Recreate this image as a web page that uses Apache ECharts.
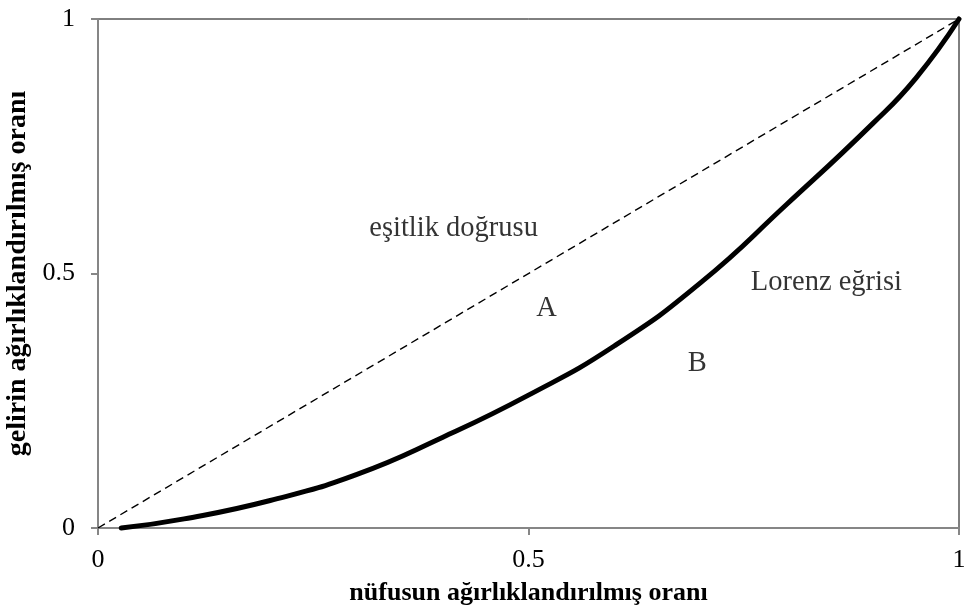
<!DOCTYPE html>
<html>
<head>
<meta charset="utf-8">
<script src="https://cdn.jsdelivr.net/npm/echarts@6/dist/echarts.min.js"></script>
<style>
html, body { margin: 0; padding: 0; background: #fff; }
#main { width: 964px; height: 615px; }
</style>
</head>
<body>
<div id="main"></div>
<script>
// Lorenz curve
var lorenzX = [0.027, 0.1, 0.2, 0.3, 0.4, 0.5, 0.6, 0.7, 0.8, 0.9, 0.95, 1];
var lorenzY = [0, 0.018, 0.054, 0.105, 0.178, 0.261, 0.358, 0.482, 0.636, 0.795, 0.884, 1];
// line of equality
var equalityX = [0, 1];
var equalityY = [0, 1];
// axis ticks
var tickMin = 0;
var tickMax = 1;
var tickStep = 0.5;
// text notes inside the plot (data coordinates)
var noteTexts = ['eşitlik doğrusu', 'A', 'B', 'Lorenz eğrisi'];
var noteX = [0.413, 0.521, 0.696, 0.846];
var noteY = [0.589, 0.432, 0.324, 0.483];

var xName = 'nüfusun ağırlıklandırılmış oranı';
var yName = 'gelirin ağırlıklandırılmış oranı';

function pairs(xs, ys) {
	return xs.map(function (x, i) { return [x, ys[i]]; });
}

var font = "'Liberation Serif', 'Times New Roman', serif";
var axisGray = '#868686';

var myChart = echarts.init(document.getElementById('main'));

var option = {
	backgroundColor: '#fff',
	animation: false,
	grid: {
		left: 98,
		right: 5,
		top: 19,
		bottom: 87,
		outerBoundsMode: 'none',
		containLabel: false,
		show: true,
		borderColor: '#000',
		borderWidth: 1
	},
	xAxis: {
		type: 'value',
		min: tickMin,
		max: tickMax,
		interval: tickStep,
		name: xName,
		nameLocation: 'middle',
		nameGap: 52,
		nameTextStyle: { fontFamily: font, fontSize: 26, fontWeight: 'bold', color: '#000' },
		axisLine: { show: true, lineStyle: { color: axisGray, width: 2 } },
		axisTick: { show: true, length: 7, lineStyle: { color: axisGray, width: 2 } },
		axisLabel: { fontFamily: font, fontSize: 26, color: '#000', margin: 19 },
		splitLine: { show: false }
	},
	yAxis: {
		type: 'value',
		min: tickMin,
		max: tickMax,
		interval: tickStep,
		name: yName,
		nameLocation: 'middle',
		nameGap: 56,
		nameTextStyle: { fontFamily: font, fontSize: 28, fontWeight: 'bold', color: '#000' },
		axisLine: { show: true, lineStyle: { color: axisGray, width: 2 } },
		axisTick: { show: true, length: 7, lineStyle: { color: axisGray, width: 2 } },
		axisLabel: { fontFamily: font, fontSize: 26, color: '#000', margin: 23 },
		splitLine: { show: false }
	},
	series: [
		{
			name: 'eşitlik doğrusu',
			type: 'line',
			data: pairs(equalityX, equalityY),
			showSymbol: false,
			symbol: 'none',
			lineStyle: { color: '#000', width: 1.4, type: [8, 5] },
			z: 3
		},
		{
			name: 'Lorenz eğrisi',
			type: 'line',
			data: pairs(lorenzX, lorenzY),
			smooth: 0.5,
			showSymbol: false,
			symbol: 'none',
			clip: false,
			lineStyle: { color: '#000', width: 5, cap: 'round' },
			z: 4
		},
		{
			name: 'notes',
			type: 'scatter',
			data: noteTexts.map(function (t, i) { return { value: [noteX[i], noteY[i]], name: t }; }),
			symbolSize: 0,
			silent: true,
			label: {
				show: true,
				position: 'inside',
				formatter: '{b}',
				fontFamily: font,
				fontSize: 28.5,
				color: '#000'
			},
			z: 5
		}
	]
};

myChart.setOption(option);
</script>
</body>
</html>
